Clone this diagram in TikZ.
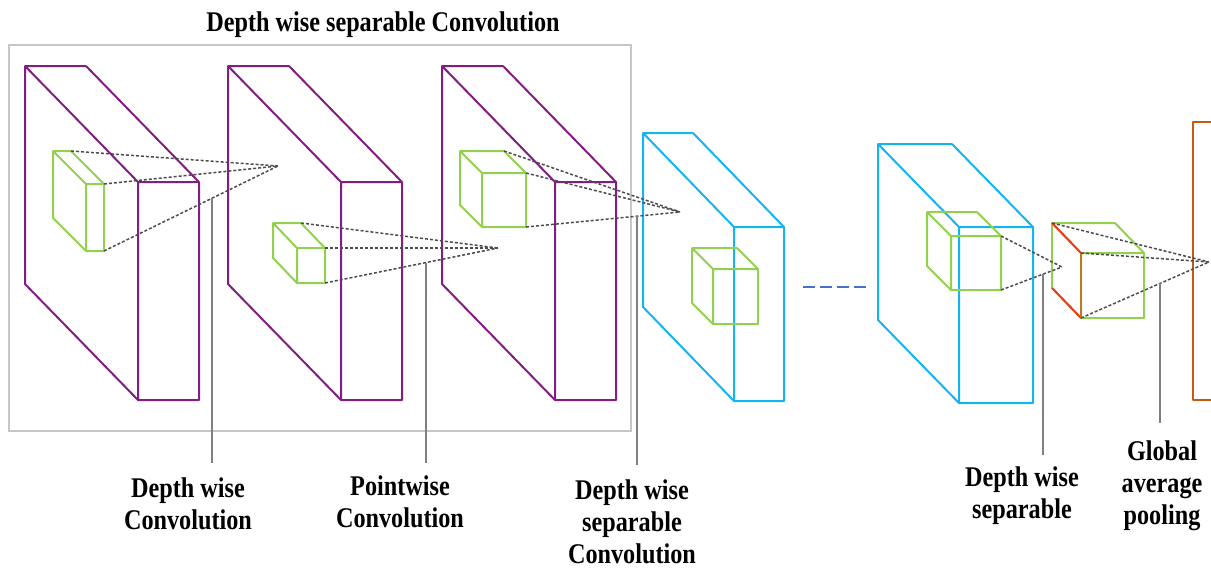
\documentclass[tikz,border=0pt]{standalone}
\usepackage{fontspec}
\setmainfont{Liberation Serif}[FakeStretch=0.85]
\definecolor{lilac}{RGB}{130,30,130}
\definecolor{sky}{RGB}{20,180,240}
\definecolor{leaf}{RGB}{146,208,80}
\definecolor{rust}{RGB}{197,90,17}
\definecolor{flame}{RGB}{240,60,30}
\definecolor{ochre}{RGB}{190,120,40}
\definecolor{steel}{RGB}{68,114,196}
\newcommand{\block}[8]{%
  \coordinate (#1-tl) at (#3,#4) ;
  \coordinate (#1-tr) at ({#3+#5},#4) ;
  \coordinate (#1-bl) at (#3,{#4+#6}) ;
  \coordinate (#1-ftl) at ({#3+#7},{#4+#8}) ;
  \coordinate (#1-ftr) at ({#3+#7+#5},{#4+#8}) ;
  \coordinate (#1-fbl) at ({#3+#7},{#4+#8+#6}) ;
  \coordinate (#1-fbr) at ({#3+#7+#5},{#4+#8+#6}) ;
  \draw[#2] (#1-tr) -- (#1-tl) -- (#1-bl) -- (#1-fbl) -- (#1-fbr) -- (#1-ftr) -- (#1-ftl) -- (#1-fbl)
    (#1-tl) -- (#1-ftl) (#1-tr) -- (#1-ftr) ;
}
\tikzset{
  slab/.style={line width=2pt,line join=round},
  cube/.style={draw=leaf,line width=2pt,line join=round},
  ray/.style={draw=black!70,line width=1.5pt,dash pattern=on 3pt off 2pt},
  lead/.style={draw=black!50,line width=1.5pt},
  lbl/.style={font=\bfseries\fontsize{28.5}{32}\selectfont,align=center,anchor=north,inner sep=0pt}
}
\begin{document}
\begin{tikzpicture}[x=1pt,y=-1pt]
\useasboundingbox (0,0) rectangle (1211,568) ;
\draw[black!22,line width=1.5pt] (9,45) rectangle (631,431) ;
\node[lbl] (title) at (383,12) {Depth wise separable Convolution} ;
\block{s1}{slab,draw=lilac}{25}{66}{61}{218}{113}{116}
\block{s2}{slab,draw=lilac}{228}{66}{61}{218}{113}{116}
\block{s3}{slab,draw=lilac}{442}{66}{61}{218}{113}{116}
\block{s4}{slab,draw=sky}{643}{133}{50}{174}{91}{94}
\block{s5}{slab,draw=sky}{878}{144}{74}{176}{81}{83}
\draw[slab,draw=rust] (1212,122) -- (1193,122) -- (1193,400) -- (1212,400) ;
\draw[steel,line width=2pt,dash pattern=on 12pt off 5pt] (803,287) -- (867,287) ;
\block{c1}{cube}{53}{151}{18}{67}{33}{33}
\block{c2}{cube}{273}{223}{28}{35}{24}{25}
\block{c3}{cube}{460}{151}{44}{54}{22}{22}
\block{c4}{cube}{692}{248}{45}{55}{21}{21}
\block{c5}{cube}{927}{212}{50}{54}{24}{24}
\block{c6}{cube}{1052}{223}{63}{65}{29}{30}
\draw[flame,line width=2pt] (c6-tl) -- (c6-ftl) (c6-bl) -- (c6-fbl) ;
\draw[ochre,line width=2pt] (c6-ftl) -- (c6-fbl) ;
\coordinate (ap1) at (278,166) ;
\coordinate (ap2) at (498,248) ;
\coordinate (ap3) at (680,212) ;
\coordinate (ap5) at (1062,267) ;
\coordinate (ap6) at (1209,262) ;
\foreach \c/\p/\a in {c1/tr/ap1, c1/ftr/ap1, c1/fbr/ap1, c2/tr/ap2, c2/ftr/ap2, c2/fbr/ap2,
    c3/tr/ap3, c3/ftr/ap3, c3/fbr/ap3, c5/ftr/ap5, c5/fbr/ap5, c6/tl/ap6, c6/ftl/ap6, c6/fbl/ap6}
  \draw[ray] (\c-\p) -- (\a) ;
\path (c1-fbr) -- (ap1) coordinate[pos=.621] (l1) ;
\path (c2-fbr) -- (ap2) coordinate[pos=.584] (l2) ;
\path (c3-fbr) -- (ap3) coordinate[pos=.721] (l3) ;
\path (c5-fbr) -- (ap5) coordinate[pos=.689] (l4) ;
\path (c6-fbl) -- (ap6) coordinate[pos=.617] (l5) ;
\foreach \n/\b in {1/463, 2/463, 3/465, 4/455, 5/423}
  \draw[lead] (l\n) -- (l\n |- 0,\b) ;
\foreach \n/\x/\y/\t in {1/188/478/Depth wise\\Convolution, 2/400/476/Pointwise\\Convolution,
    3/632/480/Depth wise\\separable\\Convolution, 4/1022/467/Depth wise\\separable,
    5/1162/441/Global\\average\\pooling}
  \node[lbl] (lab\n) at (\x,\y) {\t} ;
\end{tikzpicture}
\end{document}
